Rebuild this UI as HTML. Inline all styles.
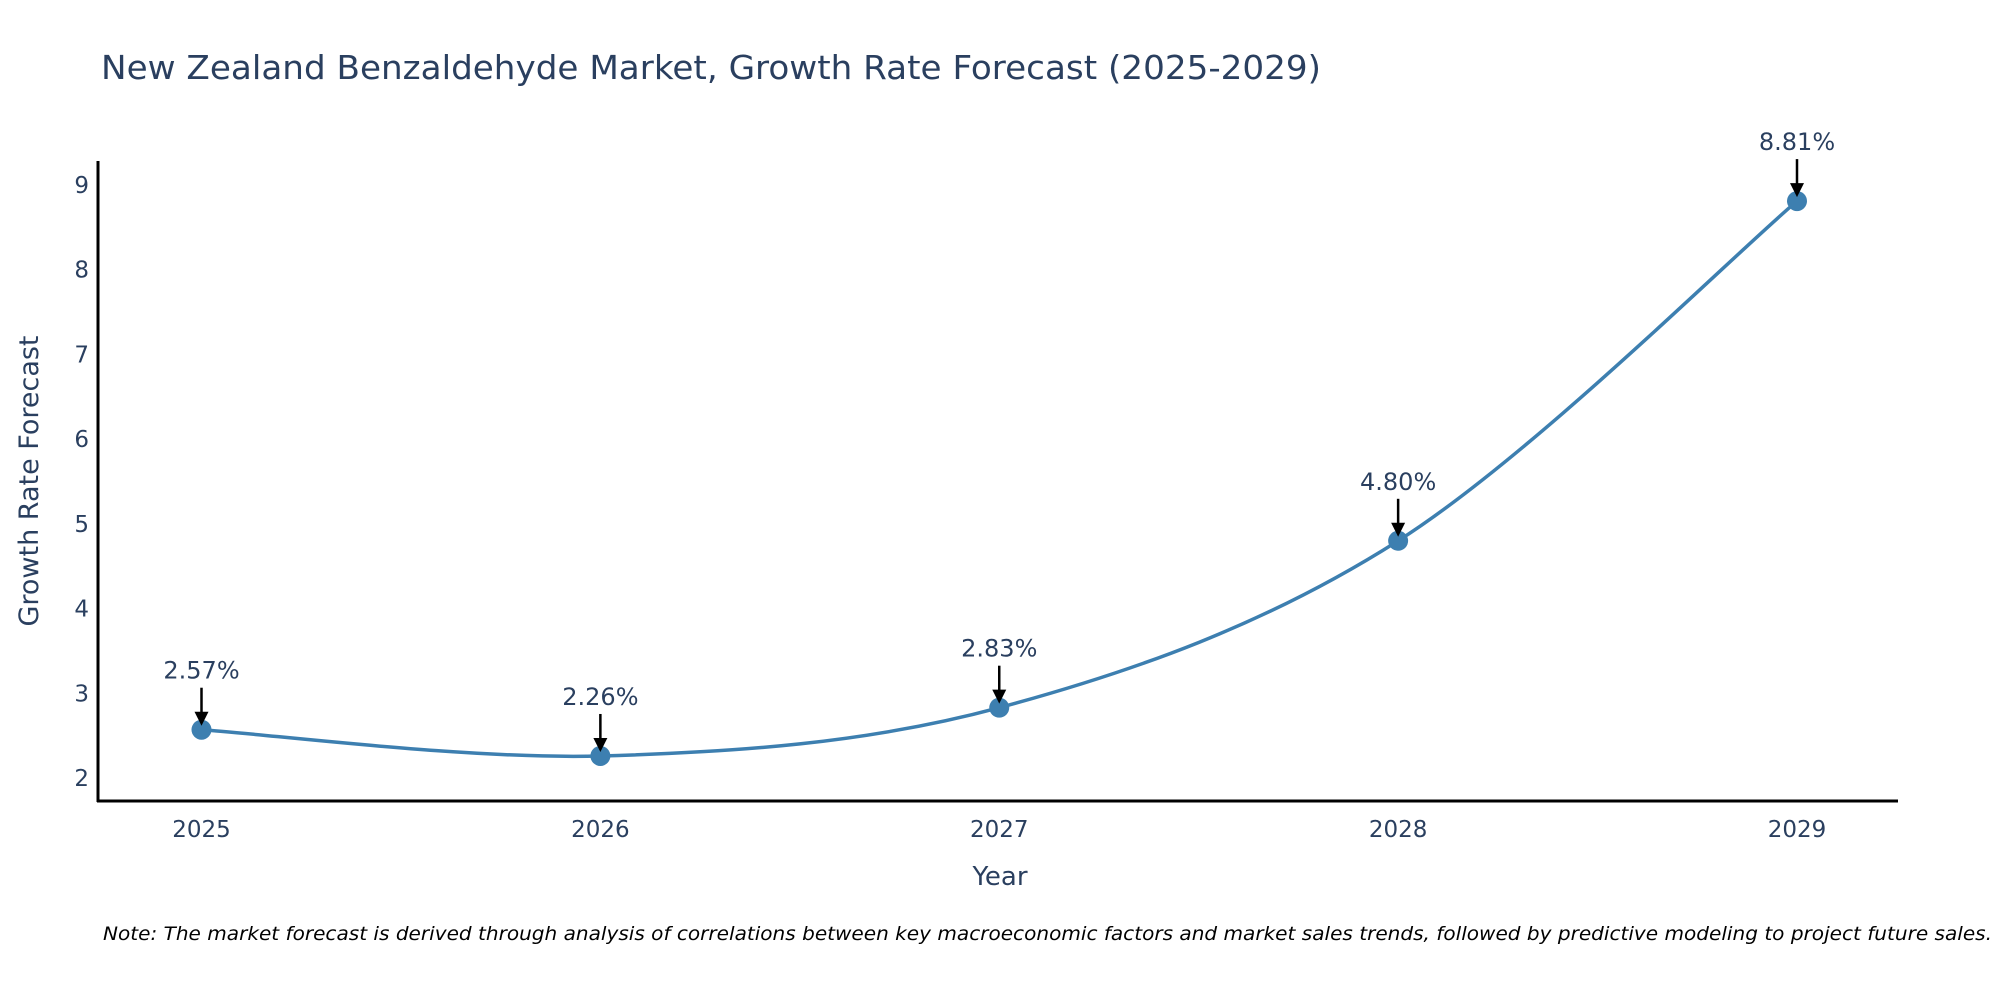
<!DOCTYPE html>
<html><head><meta charset="utf-8"><style>
body{margin:0;background:#fff;}
svg{display:block;font-family:"DejaVu Sans","Liberation Sans",sans-serif;}
</style></head><body>
<svg id="chart" width="2000" height="1000">
<text x="101" y="79" font-size="33" fill="#2a3f5f" textLength="1220" lengthAdjust="spacingAndGlyphs">New Zealand Benzaldehyde Market, Growth Rate Forecast (2025-2029)</text>
<g id="yticks"></g><g id="xticks"></g>
<path id="line" fill="none" stroke="#3d7fb0" stroke-width="3.5"/>
<g id="marks"></g>
<line x1="98" y1="161" x2="98" y2="802" stroke="#000" stroke-width="3"/>
<line x1="97" y1="801" x2="1898" y2="801" stroke="#000" stroke-width="3"/>
<text x="1000" y="885" font-size="26" fill="#2a3f5f" text-anchor="middle">Year</text>
<text transform="translate(38,481) rotate(-90)" font-size="27" fill="#2a3f5f" text-anchor="middle">Growth Rate Forecast</text>
<text x="103" y="940" font-size="19" font-style="italic" fill="#000" textLength="1889" lengthAdjust="spacingAndGlyphs">Note: The market forecast is derived through analysis of correlations between key macroeconomic factors and market sales trends, followed by predictive modeling to project future sales.</text>
</svg>
<script>
const years=[2025,2026,2027,2028,2029];
const values=[2.57,2.26,2.83,4.80,8.81];
const labels=["2.57%","2.26%","2.83%","4.80%","8.81%"];
const yTicks=[2,3,4,5,6,7,8,9];
const NS="http://www.w3.org/2000/svg";
const xs=y=>201.5+(y-2025)*(1797-201.5)/4;
const ys=v=>778-(v-2)*(778-185)/7;
function mk(t,a,p){const e=document.createElementNS(NS,t);for(const k in a)e.setAttribute(k,a[k]);p.appendChild(e);return e;}
const yt=document.getElementById('yticks');
yTicks.forEach(v=>{const t=mk('text',{x:89,y:ys(v)+8,'font-size':23,fill:'#2a3f5f','text-anchor':'end'},yt);t.textContent=v;

});
const xt=document.getElementById('xticks');
years.forEach(y=>{const t=mk('text',{x:xs(y),y:837,'font-size':23,fill:'#2a3f5f','text-anchor':'middle'},xt);t.textContent=y;

});
const P=years.map((y,i)=>[xs(y),ys(values[i])]);
let d=`M${P[0][0]},${P[0][1]}`;
for(let i=0;i<P.length-1;i++){const p0=P[Math.max(i-1,0)],p1=P[i],p2=P[i+1],p3=P[Math.min(i+2,P.length-1)];
const k=1/6;d+=` C${p1[0]+(p2[0]-p0[0])*k},${p1[1]+(p2[1]-p0[1])*k} ${p2[0]-(p3[0]-p1[0])*k},${p2[1]-(p3[1]-p1[1])*k} ${p2[0]},${p2[1]}`;}
document.getElementById('line').setAttribute('d',d);
const mg=document.getElementById('marks');
P.forEach((p,i)=>{const c=mk('circle',{cx:p[0],cy:p[1],r:10,fill:'#3d7fb0'},mg);


const l=mk('line',{x1:p[0],y1:p[1]-42,x2:p[0],y2:p[1]-16,stroke:'#000','stroke-width':2.5},mg);


const h=mk('polygon',{points:`${p[0]-7},${p[1]-18} ${p[0]+7},${p[1]-18} ${p[0]},${p[1]-4}`,fill:'#000'},mg);


const t=mk('text',{x:p[0],y:p[1]-51,'font-size':24,fill:'#2a3f5f','text-anchor':'middle'},mg);t.textContent=labels[i];

});
</script>
</body></html>
